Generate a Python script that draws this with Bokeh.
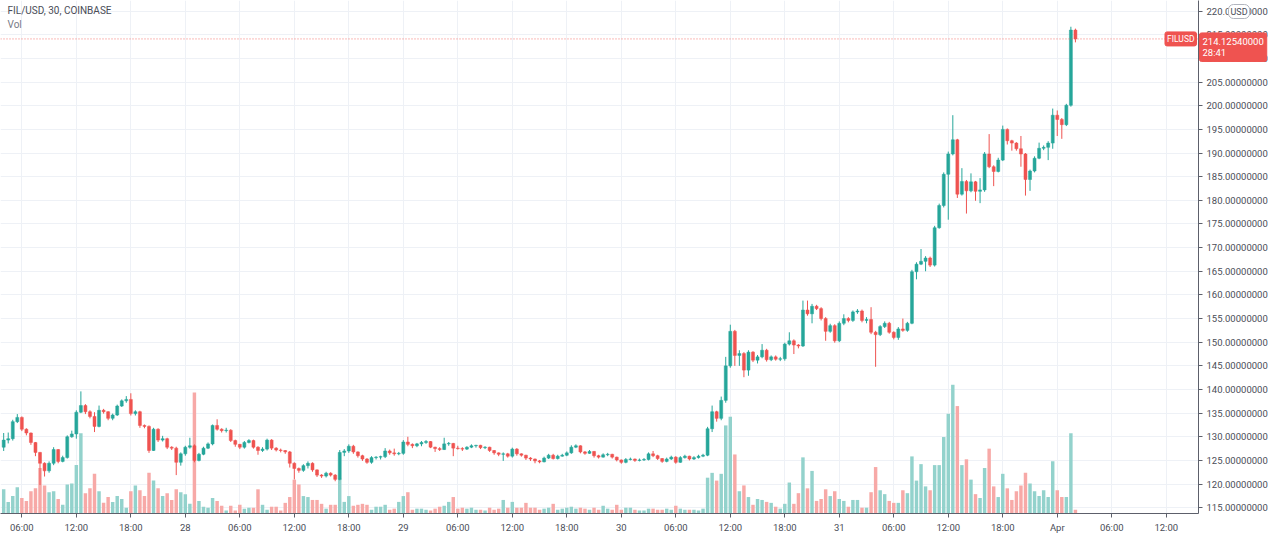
from datetime import datetime, timedelta
from bokeh.plotting import figure
from bokeh.models import (ColumnDataSource, Range1d, FixedTicker, PrintfTickFormatter,
                          Span, Label, SingleIntervalTicker)
from bokeh.embed import file_html
from bokeh.resources import INLINE

# ---- data: FIL/USD 30-minute candles, Coinbase, starting 27 Mar 2021 04:00 ----
start_time = datetime(2021, 3, 27, 4, 0)

opens = [
    127.8, 129.3, 129.6, 133.2, 134.1, 131.6, 130.8, 128.8, 126.7, 124.4,
    122.8, 124.4, 127.3, 124.8, 125.6, 130.0, 130.6, 135.2, 136.6, 135.3,
    134.3, 132.2, 135.6, 135.3, 133.9, 134.6, 136.5, 137.6, 137.9, 134.9,
    135.3, 132.4, 132.2, 127.1, 131.6, 129.3, 129.6, 127.8, 127.6, 124.6,
    126.4, 127.8, 128.1, 125.0, 126.3, 127.6, 128.5, 132.4, 131.6, 131.3,
    131.4, 129.2, 128.4, 127.8, 128.8, 129.2, 127.8, 127.1, 127.4, 129.3,
    127.6, 127.2, 127.1, 126.8, 124.4, 123.3, 122.9, 123.9, 124.4, 123.0,
    121.9, 121.7, 122.3, 121.9, 121.0, 126.7, 127.0, 128.0, 126.8, 126.0,
    125.3, 124.6, 125.6, 125.7, 125.8, 127.0, 126.6, 126.4, 126.5, 128.9,
    128.4, 128.1, 128.5, 128.8, 129.0, 127.8, 127.5, 127.3, 128.5, 128.6,
    127.6, 127.5, 127.4, 127.8, 128.1, 128.2, 127.7, 127.8, 127.1, 126.6,
    126.3, 126.4, 125.9, 127.4, 126.4, 126.1, 125.5, 125.3, 124.9, 124.7,
    125.5, 126.1, 125.4, 125.9, 126.1, 126.6, 127.8, 128.1, 126.8, 126.5,
    126.9, 126.0, 125.7, 126.2, 126.3, 125.7, 125.1, 124.6, 125.2, 125.3,
    125.0, 125.1, 125.2, 126.4, 126.0, 125.4, 124.8, 125.3, 125.7, 124.6,
    125.6, 125.9, 125.3, 125.6, 125.9, 126.1, 131.7, 135.3, 133.9, 137.7,
    145.0, 152.3, 147.2, 147.6, 144.1, 147.9, 146.2, 146.9, 148.3, 146.3,
    146.9, 146.4, 146.5, 149.6, 150.3, 149.4, 149.2, 156.8, 156.0, 157.6,
    157.1, 155.0, 152.3, 153.5, 150.3, 154.0, 155.0, 154.6, 156.4, 156.6,
    154.6, 154.8, 152.1, 151.6, 153.3, 154.0, 152.1, 151.0, 152.8, 152.5,
    154.0, 164.9, 166.5, 167.1, 167.8, 166.3, 174.2, 178.9, 185.5, 189.8,
    192.8, 181.3, 184.0, 182.0, 183.9, 181.9, 182.2, 189.8, 187.1, 186.1,
    188.5, 195.0, 192.6, 192.1, 190.9, 189.8, 184.4, 186.2, 188.9, 191.0,
    191.2, 192.1, 198.0, 197.1, 196.0, 200.1, 216.0,
]

highs = [
    130.8, 130.9, 133.6, 134.8, 134.3, 131.8, 130.9, 128.9, 126.8, 124.6,
    124.8, 127.8, 127.4, 126.0, 130.3, 131.3, 135.6, 139.6, 136.9, 135.6,
    135.2, 136.6, 135.9, 135.4, 134.9, 136.8, 137.9, 138.6, 139.2, 135.6,
    135.5, 132.6, 132.4, 131.9, 131.8, 130.2, 129.8, 128.0, 127.9, 126.7,
    128.1, 129.8, 128.4, 126.6, 127.9, 128.8, 132.6, 133.7, 131.8, 131.9,
    131.6, 129.4, 128.5, 129.1, 129.5, 129.4, 128.0, 127.8, 129.6, 129.5,
    127.8, 127.5, 127.2, 127.0, 124.6, 123.5, 124.2, 124.8, 124.6, 123.1,
    122.1, 122.6, 122.5, 122.1, 127.2, 127.4, 128.4, 128.3, 126.9, 126.2,
    125.5, 125.9, 125.9, 126.0, 127.6, 127.3, 127.5, 126.8, 129.3, 130.0,
    128.6, 128.7, 129.1, 129.3, 129.1, 127.9, 127.8, 129.8, 128.9, 128.7,
    128.1, 127.8, 128.0, 128.4, 128.3, 128.3, 128.0, 127.9, 127.2, 126.7,
    126.7, 126.6, 127.7, 127.6, 126.5, 126.2, 125.7, 125.4, 125.1, 125.8,
    126.4, 126.4, 126.2, 126.4, 126.9, 128.2, 128.4, 128.2, 127.0, 127.2,
    127.0, 126.2, 126.5, 126.6, 126.4, 125.8, 125.2, 125.5, 125.6, 125.4,
    125.4, 125.5, 126.7, 127.0, 126.2, 125.5, 125.6, 126.0, 125.9, 125.9,
    126.2, 126.0, 125.9, 126.2, 126.4, 132.1, 136.6, 135.5, 138.5, 146.9,
    153.7, 152.6, 148.3, 147.9, 148.3, 148.1, 147.3, 149.6, 148.6, 147.2,
    147.2, 146.9, 149.9, 152.1, 150.6, 149.6, 158.8, 158.8, 158.1, 157.9,
    157.4, 155.3, 153.9, 153.8, 154.4, 155.9, 155.3, 156.7, 157.0, 156.9,
    155.3, 157.4, 152.4, 153.6, 154.4, 154.3, 152.3, 153.2, 155.0, 154.3,
    165.3, 166.9, 169.7, 168.2, 168.1, 174.6, 179.3, 185.9, 190.3, 198.0,
    193.0, 186.8, 184.3, 185.7, 184.1, 184.7, 190.2, 194.0, 187.4, 189.0,
    195.8, 195.2, 192.8, 192.3, 193.6, 190.0, 186.5, 189.3, 192.2, 191.6,
    192.5, 199.4, 199.0, 197.4, 200.4, 216.7, 216.3,
]

lows = [
    127.0, 128.6, 129.2, 132.9, 131.2, 130.3, 128.3, 125.9, 119.8, 121.6,
    122.4, 124.0, 124.4, 124.6, 125.4, 129.8, 129.6, 135.0, 134.8, 133.9,
    131.0, 132.0, 134.9, 133.5, 133.5, 134.4, 136.3, 137.2, 134.5, 134.5,
    131.9, 131.8, 126.6, 127.0, 128.9, 129.0, 127.4, 127.2, 121.9, 123.9,
    126.0, 127.5, 124.6, 124.8, 126.1, 127.4, 128.2, 131.3, 130.9, 130.9,
    128.9, 127.9, 127.4, 127.5, 128.6, 127.5, 126.2, 126.8, 127.1, 127.2,
    126.9, 126.7, 126.4, 123.5, 121.0, 122.4, 122.6, 123.3, 122.6, 121.5,
    121.3, 121.4, 121.6, 120.6, 120.8, 125.9, 126.6, 126.4, 125.6, 124.9,
    124.3, 124.3, 125.2, 125.2, 125.5, 126.2, 126.0, 126.1, 126.2, 128.0,
    127.6, 127.8, 128.0, 128.5, 127.6, 126.8, 127.0, 127.2, 128.1, 125.9,
    127.3, 127.0, 127.2, 127.6, 127.7, 127.4, 127.4, 126.8, 126.2, 125.9,
    124.9, 125.6, 125.6, 126.0, 125.8, 125.1, 124.9, 124.4, 124.4, 124.6,
    125.3, 125.2, 125.2, 125.8, 125.9, 126.4, 127.6, 126.5, 126.2, 126.4,
    125.6, 125.4, 125.6, 125.9, 125.4, 124.8, 124.3, 124.4, 125.0, 124.7,
    124.8, 124.9, 125.0, 125.7, 125.1, 124.5, 124.6, 125.1, 124.3, 124.5,
    125.4, 125.0, 125.1, 125.4, 125.7, 125.9, 131.0, 133.2, 133.5, 137.2,
    144.6, 145.0, 145.0, 142.6, 142.9, 145.8, 145.5, 146.6, 145.9, 146.0,
    146.1, 146.0, 146.1, 149.3, 147.5, 148.7, 149.0, 155.6, 154.0, 156.8,
    154.6, 150.3, 152.0, 149.9, 150.0, 153.6, 154.2, 154.3, 156.0, 154.2,
    154.0, 151.7, 144.8, 151.3, 153.0, 151.8, 150.6, 150.5, 152.2, 152.2,
    153.8, 163.3, 166.3, 165.0, 165.9, 166.0, 174.0, 178.5, 175.9, 189.5,
    180.5, 181.0, 177.2, 181.7, 179.9, 179.4, 181.8, 186.8, 183.0, 185.9,
    188.3, 191.8, 190.5, 190.5, 187.1, 181.0, 182.0, 185.9, 188.7, 190.6,
    188.5, 190.9, 193.6, 193.0, 195.7, 199.8, 213.4,
]

closes = [
    129.3, 129.6, 133.2, 134.1, 131.6, 130.8, 128.8, 126.7, 124.4, 122.8,
    124.4, 127.3, 124.8, 125.6, 130.0, 130.6, 135.2, 136.6, 135.3, 134.3,
    132.2, 135.6, 135.3, 133.9, 134.6, 136.5, 137.6, 137.9, 134.9, 135.3,
    132.4, 132.2, 127.1, 131.6, 129.3, 129.6, 127.8, 127.6, 124.6, 126.4,
    127.8, 128.1, 125.0, 126.3, 127.6, 128.5, 132.4, 131.6, 131.3, 131.4,
    129.2, 128.4, 127.8, 128.8, 129.2, 127.8, 127.1, 127.4, 129.3, 127.6,
    127.2, 127.1, 126.8, 124.4, 123.3, 122.9, 123.9, 124.4, 123.0, 121.9,
    121.7, 122.3, 121.9, 121.0, 126.7, 127.0, 128.0, 126.8, 126.0, 125.3,
    124.6, 125.6, 125.7, 125.8, 127.0, 126.6, 126.4, 126.5, 128.9, 128.4,
    128.1, 128.5, 128.8, 129.0, 127.8, 127.5, 127.3, 128.5, 128.6, 127.6,
    127.5, 127.4, 127.8, 128.1, 128.2, 127.7, 127.8, 127.1, 126.6, 126.3,
    126.4, 125.9, 127.4, 126.4, 126.1, 125.5, 125.3, 124.9, 124.7, 125.5,
    126.1, 125.4, 125.9, 126.1, 126.6, 127.8, 128.1, 126.8, 126.5, 126.9,
    126.0, 125.7, 126.2, 126.3, 125.7, 125.1, 124.6, 125.2, 125.3, 125.0,
    125.1, 125.2, 126.4, 126.0, 125.4, 124.8, 125.3, 125.7, 124.6, 125.6,
    125.9, 125.3, 125.6, 125.9, 126.1, 131.7, 135.3, 133.9, 137.7, 145.0,
    152.3, 147.2, 147.6, 144.1, 147.9, 146.2, 146.9, 148.3, 146.3, 146.9,
    146.4, 146.5, 149.6, 150.3, 149.4, 149.2, 156.8, 156.0, 157.6, 157.1,
    155.0, 152.3, 153.5, 150.3, 154.0, 155.0, 154.6, 156.4, 156.6, 154.6,
    154.8, 152.1, 151.6, 153.3, 154.0, 152.1, 151.0, 152.8, 152.5, 154.0,
    164.9, 166.5, 167.1, 167.8, 166.3, 174.2, 178.9, 185.5, 189.8, 192.8,
    181.3, 184.0, 182.0, 183.9, 181.9, 182.2, 189.8, 187.1, 186.1, 188.5,
    195.0, 192.6, 192.1, 190.9, 189.8, 184.4, 186.2, 188.9, 191.0, 191.2,
    192.1, 198.0, 197.1, 196.0, 200.1, 216.0, 214.1254,
]

# volume (thousand FIL)
volumes = [
    25, 12, 18, 27, 16, 13, 23, 26, 47, 29,
    22, 23, 15, 9, 30, 31, 50, 83, 21, 26,
    41, 23, 11, 17, 12, 18, 15, 6, 23, 29,
    24, 18, 42, 34, 26, 18, 21, 14, 25, 22,
    20, 10, 125, 13, 7, 6, 16, 13, 8, 3,
    8, 3, 9, 5, 6, 6, 25, 9, 4, 7,
    7, 3, 11, 17, 35, 30, 18, 17, 14, 14,
    10, 5, 9, 9, 36, 12, 18, 8, 9, 10,
    9, 4, 7, 7, 9, 4, 5, 12, 18, 22,
    4, 5, 5, 4, 3, 5, 7, 8, 12, 17,
    5, 6, 5, 6, 4, 4, 3, 6, 4, 5,
    14, 6, 12, 6, 6, 11, 6, 6, 4, 5,
    6, 10, 4, 5, 6, 7, 5, 6, 5, 4,
    6, 4, 8, 5, 4, 9, 4, 6, 6, 4,
    3, 3, 5, 5, 4, 4, 5, 4, 8, 5,
    4, 4, 4, 3, 5, 37, 42, 34, 41, 91,
    100, 61, 23, 29, 17, 9, 15, 14, 12, 11,
    7, 5, 10, 32, 10, 21, 58, 26, 44, 13,
    15, 25, 18, 23, 15, 13, 7, 14, 14, 6,
    6, 22, 48, 24, 20, 13, 11, 11, 24, 21,
    59, 34, 51, 28, 24, 50, 50, 79, 103, 133,
    111, 50, 56, 35, 20, 16, 47, 67, 28, 17,
    41, 26, 14, 23, 29, 42, 31, 23, 18, 24,
    17, 54, 24, 17, 17, 83, 4,
]

symbol_title = "FIL/USD, 30, COINBASE"
last_price = closes[-1]
countdown = "28:41"

# ---- derived columns ----
n = len(closes)
idx = list(range(n))
is_up = [c >= o for o, c in zip(opens, closes)]
UP, DN = "#26a69a", "#ef5350"
VUP, VDN = "#93d2cc", "#f7a9a7"
src = ColumnDataSource(dict(
    x=idx, o=opens, h=highs, l=lows, c=closes, v=volumes,
    top=[max(o, c) for o, c in zip(opens, closes)],
    bot=[min(o, c) for o, c in zip(opens, closes)],
    col=[UP if u else DN for u in is_up],
    vcol=[VUP if u else VDN for u in is_up],
))

# time ticks every 6 hours, positioned on the bar index
tick_pos, tick_lab = [], []
t = datetime(2021, 3, 27, 6, 0)
end_t = datetime(2021, 4, 1, 12, 0)
while t <= end_t:
    pos = int((t - start_time) / timedelta(minutes=30))
    tick_pos.append(pos)
    if t.hour == 0:
        tick_lab.append(t.strftime("%b") if t.day == 1 else str(t.day))
    else:
        tick_lab.append(t.strftime("%H:%M"))
    t += timedelta(hours=6)

x0, x1 = -0.7, 263.1
y0, y1 = 113.78, 222.25
FW, FH = 1198, 513

p = figure(frame_width=FW, frame_height=FH, output_backend="svg", toolbar_location=None,
           x_range=Range1d(x0, x1), y_range=Range1d(y0, y1),
           y_axis_location="right",
           min_border_left=0, min_border_top=0, min_border_right=0, min_border_bottom=0)
p.outline_line_color = None
p.background_fill_color = "white"
p.border_fill_color = "white"

p.extra_y_ranges = {"vol": Range1d(0, 530)}

# volume
p.vbar(x="x", top="v", bottom=0, width=0.76, fill_color="vcol", line_color=None,
       y_range_name="vol", source=src)
# wicks & bodies
p.segment(x0="x", y0="l", x1="x", y1="h", line_color="col", line_width=1, source=src)
p.vbar(x="x", top="top", bottom="bot", width=0.66, fill_color="col", line_color="col",
       line_width=0.5, source=src)

# price line
p.add_layout(Span(location=last_price, dimension="width", line_color=DN,
                  line_dash="1 2", line_width=1, line_alpha=0.8))

# axes
FONT = "Roboto"
p.xaxis.ticker = FixedTicker(ticks=tick_pos)
p.xaxis.major_label_overrides = {pos: lab for pos, lab in zip(tick_pos, tick_lab)}
p.yaxis.ticker = SingleIntervalTicker(interval=5, num_minor_ticks=0)
p.yaxis.formatter = PrintfTickFormatter(format="%.8f")
for ax in (p.xaxis, p.yaxis):
    ax.axis_line_color = "#5d606b"
    ax.major_tick_line_color = "#5d606b"
    ax.major_tick_out = 4
    ax.major_tick_in = 0
    ax.minor_tick_line_color = None
    ax.major_label_text_font = FONT
    ax.major_label_text_font_size = "9.5px"
    ax.major_label_text_color = "#4a4d57"
    ax.major_label_standoff = 4

p.xgrid.ticker = FixedTicker(ticks=tick_pos)
p.ygrid.ticker = SingleIntervalTicker(interval=5, num_minor_ticks=0)
p.xgrid.grid_line_color = "#eef1f6"
p.ygrid.grid_line_color = "#eef1f6"


def make_label(**kw):
    pad = kw.pop("pad", None)
    rad = kw.pop("rad", None)
    extra = {}
    if pad is not None:
        extra["padding"] = pad
    if rad is not None:
        extra["border_radius"] = rad
    while True:
        try:
            return Label(**kw, **extra)
        except Exception:
            if not extra:
                raise
            extra.popitem()


# texts
p.add_layout(Label(x=x0, y=y1, x_offset=7, y_offset=-4, text=symbol_title,
                   text_baseline="top", text_font=FONT, text_font_size="10px",
                   text_color="#4a4d57"))
p.add_layout(Label(x=x0, y=y1, x_offset=7, y_offset=-18, text="Vol",
                   text_baseline="top", text_font=FONT, text_font_size="10px",
                   text_color="#787b86"))
p.add_layout(make_label(x=x1, y=last_price, x_offset=-2, text="FILUSD",
                        text_align="right", text_baseline="middle", text_font=FONT,
                        text_font_size="8.5px", text_color="white",
                        background_fill_color=DN, border_line_color=DN, pad=2, rad=2))

# boxes on the price scale: placed in the right side panel so they are not clipped
price_box = make_label(x=x1, y=last_price, x_offset=1, y_offset=6,
                       text=f"{last_price:.8f}\n{countdown}",
                       text_align="left", text_baseline="top", text_font=FONT,
                       text_font_size="9.5px", text_color="white", text_line_height=1.05,
                       background_fill_color=DN, border_line_color=DN, pad=3, rad=2)
usd_box = make_label(x=x1, y=y1, x_offset=30, y_offset=-4, text="USD",
                     text_align="left", text_baseline="top", text_font=FONT,
                     text_font_size="9px", text_color="#4a4d57",
                     background_fill_color="white", border_line_color="#b2b5be",
                     pad=2, rad=5)
p.add_layout(price_box, "right")
p.add_layout(usd_box, "right")

open("out.html", "w").write(file_html(p, INLINE))
